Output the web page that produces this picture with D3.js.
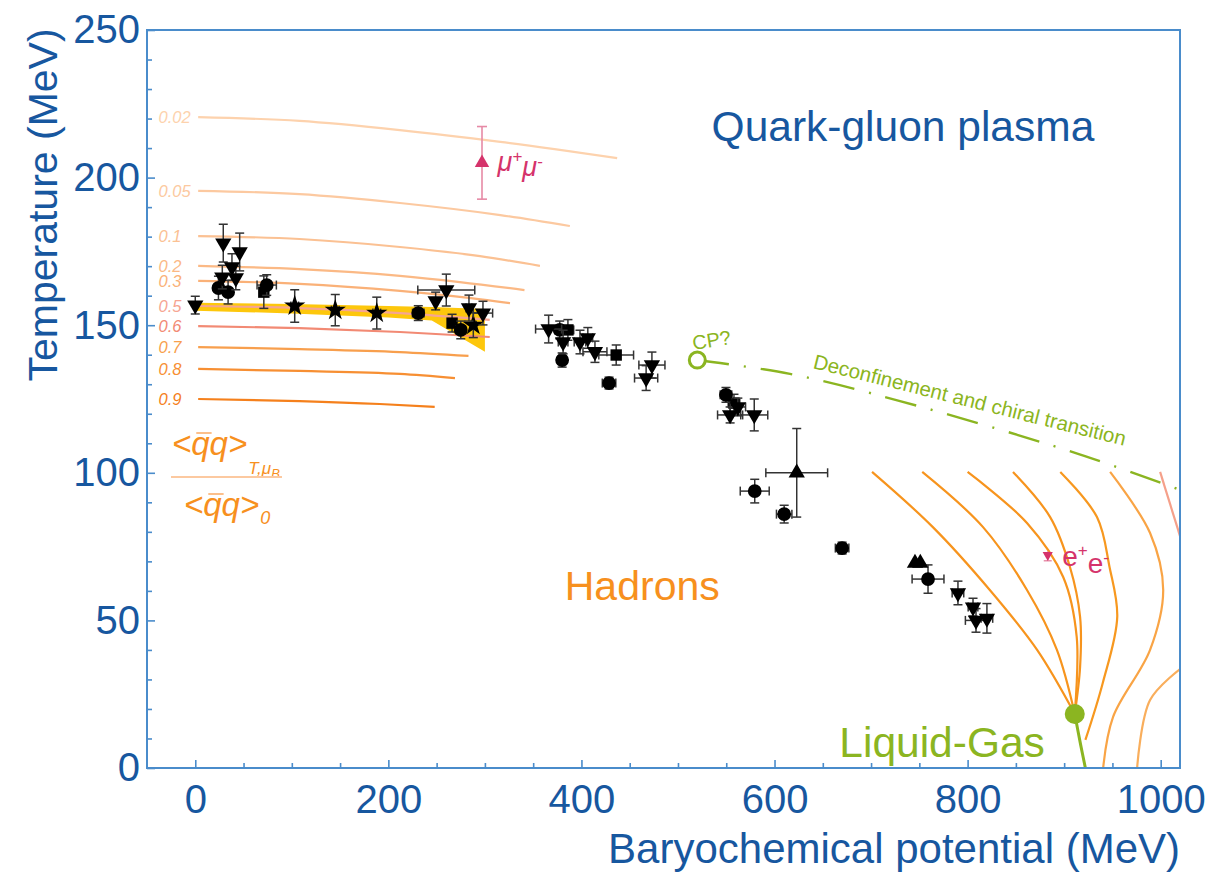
<!DOCTYPE html>
<html>
<head>
<meta charset="utf-8">
<script src="https://cdn.jsdelivr.net/npm/d3@7"></script>
<style>
  body { margin: 0; background: #fff; }
  svg { display: block; }
  text { font-family: "Liberation Sans", Arial, Helvetica, sans-serif; }
</style>
</head>
<body>
<svg id="chart" width="1220" height="880"></svg>
<script>
// ---------- axes ----------
const xTicks = [0, 200, 400, 600, 800, 1000];
const yTicks = [0, 50, 100, 150, 200, 250];

// ---------- chiral condensate ratio contours (mu_B, T) ----------
const ratioLevels = ["0.02", "0.05", "0.1", "0.2", "0.3", "0.5", "0.6", "0.7", "0.8", "0.9"];
const ratioCurves = [
  [[3, 220.5], [108, 219.2], [212, 216.1], [316, 212.1], [437, 206.6]],
  [[3, 195.5], [108, 194.4], [212, 191.4], [316, 187.3], [388, 183.6]],
  [[3, 180.2], [108, 179.2], [212, 176.5], [295, 173.4], [357, 170.1]],
  [[3, 170.1], [108, 169.0], [212, 166.7], [274, 164.6], [341, 161.9]],
  [[3, 165.0], [108, 164.0], [212, 161.6], [274, 159.6], [326, 157.5]],
  [[3, 156.5], [108, 155.8], [212, 154.1], [305, 151.8]],
  [[3, 149.7], [108, 149.0], [212, 147.7], [305, 146.0]],
  [[3, 142.6], [108, 141.9], [212, 140.9], [283, 139.6]],
  [[3, 135.2], [108, 134.5], [212, 133.5], [269, 132.1]],
  [[3, 125.0], [108, 124.3], [191, 123.3], [248, 122.3]]
];
const ratioColors = ["#fdd2ad", "#fcc9a0", "#fbc193", "#fbb985", "#fab178",
                     "#f6a592", "#f28a74", "#f89f4d", "#f78f33", "#f5801c"];

// ---------- lattice crossover band ----------
const bandMu    = [0, 100, 200, 245, 300];
const bandUpper = [157.6, 157.2, 156.5, 156.2, 155.5];
const bandLower = [154.9, 154.0, 152.6, 151.6, 141.0];

// ---------- high-density contours ----------
const denseCurves = [
  [[701, 100.3], [764, 81.6], [823, 60.3], [872, 40], [911, 18.3]],
  [[753, 100.3], [816, 81.6], [861.5, 60.3], [892.5, 40], [911, 18.3]],
  [[800, 100.3], [861.5, 83], [899, 64.7], [913, 44.4], [911, 18.3]],
  [[847, 100.3], [885.5, 85], [906, 68.1], [916.5, 51.2], [916.5, 34.2], [911, 18.3]],
  [[896, 100.3], [934, 85], [947, 68.1], [955, 51.2], [940, 28.8], [922, 9.5]],
  [[947.6, 100.3], [989, 79.6], [1002.6, 60.3], [989, 40], [950.7, 17.3], [940.4, 0]],
  [[999.4, 100.3], [1022, 76.5]],
  [[1022, 34], [989, 23], [975.6, 0]]
];
const denseColors = ["#f7941d", "#f7941d", "#f7941d", "#f7941d", "#f7981f",
                     "#f9a445", "#f5a08a", "#f9ae5c"];

// ---------- transition lines and points ----------
const deconfLine = [[520, 138.2], [616, 133.5], [730, 124.3], [909, 107], [1022, 94]];
const criticalPoint = [520, 138.2];
const liquidGasLine = [[911, 18.3], [917, 8], [922, 0]];
const liquidGasPoint = [911, 18.3];

// ---------- freeze-out data: [mu_B, T, muErr, TErr] ----------
const downTriangles = [
  [0, 156.8, 0, 3], [29, 177.8, 0, 6.4], [46, 174.8, 0, 6.4], [38, 169.7, 0, 4.5],
  [42, 166, 0, 4], [28, 166.3, 0, 4], [249, 158.2, 0, 3], [260, 161.9, 29.5, 5.4],
  [283.5, 155.8, 3, 4.4], [298, 154.1, 10, 4], [366, 148.7, 13.5, 4.7],
  [381, 144.3, 5, 4], [398.5, 144.3, 6, 4], [406.6, 145.7, 5, 3.5], [414, 141, 12.4, 3.6],
  [473, 136.5, 13.5, 4.4], [467, 132.1, 12, 4.2], [554, 119.6, 13, 2.7],
  [562, 122.3, 8, 3], [579, 119.6, 14, 5.4], [790, 59.3, 6, 4], [805.6, 54.5, 5, 3],
  [808.7, 50, 11, 4], [820, 50.7, 6, 5]
];
const circlesData = [
  [24, 162.6, 3, 4], [34, 161.2, 3, 4], [74, 163.6, 10, 3.5], [231, 154.1, 6, 2.5],
  [275, 148.4, 5, 3], [377.5, 148.4, 5, 3], [380, 138.2, 3, 2.4], [428.6, 130.4, 7, 2],
  [549.7, 126.4, 6, 2.5], [579.5, 93.8, 15, 4], [610, 86, 8, 3], [670, 74.5, 7, 2],
  [759, 64, 16.5, 4.8]
];
const squaresData = [
  [71, 161.2, 3, 5.5], [266, 150.7, 4, 3], [386, 148.4, 6, 3.5], [436, 139.9, 18, 3.4],
  [558, 123.6, 6, 3]
];
const starsData = [
  [103, 156.5, 4, 5.5], [145, 155.1, 4, 5.3], [188, 154.1, 4, 5.4], [288, 150, 3, 4.2]
];
const upTriangles = [
  [623, 100, 32, 15], [745.5, 69.4, 0, 0], [751, 69.4, 0, 0]
];

// ---------- dilepton estimates: [mu_B, T, TErr] ----------
const dimuon = [297, 205, 12.3];
const dielectron = [883, 71.8, 1.6];

// ================= drawing =================
const W = 1220, H = 880;
const x = d3.scaleLinear().domain([-50, 1020]).range([147, 1180]);
const y = d3.scaleLinear().domain([0, 250]).range([768, 30]);

const axisBlue = "#4a8ccb";
const textBlue = "#17579f";
const green = "#8bb521";
const pink = "#d5336b";

const svg = d3.select("#chart");
svg.append("rect").attr("width", W).attr("height", H).attr("fill", "#fff");

const defs = svg.append("defs");
defs.append("clipPath").attr("id", "plotClip").append("rect")
  .attr("x", x.range()[0]).attr("y", y.range()[1])
  .attr("width", x.range()[1] - x.range()[0])
  .attr("height", y.range()[0] - y.range()[1]);

const plot = svg.append("g").attr("clip-path", "url(#plotClip)");

// lattice band
const bandRows = bandMu.map((m, i) => ({ m, lo: bandLower[i], hi: bandUpper[i] }));
plot.append("path")
  .datum(bandRows)
  .attr("d", d3.area().x(d => x(d.m)).y0(d => y(d.lo)).y1(d => y(d.hi)))
  .attr("fill", "#fdc70c");

// ratio contours
const smoothLine = d3.line().x(d => x(d[0])).y(d => y(d[1])).curve(d3.curveMonotoneX);
plot.selectAll("path.ratio")
  .data(ratioCurves)
  .join("path")
  .attr("class", "ratio")
  .attr("d", smoothLine)
  .attr("fill", "none")
  .attr("stroke", (d, i) => ratioColors[i])
  .attr("stroke-width", 2.2);

svg.selectAll("text.ratioLabel")
  .data(ratioLevels)
  .join("text")
  .attr("class", "ratioLabel")
  .attr("x", x(-38))
  .attr("y", (d, i) => y(ratioCurves[i][0][1]))
  .attr("dy", "0.36em")
  .attr("font-size", 16.5)
  .attr("font-style", "italic")
  .attr("fill", (d, i) => ratioColors[i])
  .text(d => d);

// high density contours
const freeLine = d3.line().x(d => x(d[0])).y(d => y(d[1])).curve(d3.curveCatmullRom.alpha(0.5));
plot.selectAll("path.dense")
  .data(denseCurves)
  .join("path")
  .attr("class", "dense")
  .attr("d", freeLine)
  .attr("fill", "none")
  .attr("stroke", (d, i) => denseColors[i])
  .attr("stroke-width", 2.2);

// deconfinement / chiral transition line
plot.append("path")
  .datum(deconfLine)
  .attr("d", freeLine)
  .attr("fill", "none")
  .attr("stroke", green)
  .attr("stroke-width", 2.4)
  .attr("stroke-dasharray", "32,15,2,15");

// liquid-gas line and endpoint
plot.append("path")
  .datum(liquidGasLine)
  .attr("d", freeLine)
  .attr("fill", "none")
  .attr("stroke", green)
  .attr("stroke-width", 3);
plot.append("circle")
  .attr("cx", x(liquidGasPoint[0])).attr("cy", y(liquidGasPoint[1]))
  .attr("r", 10).attr("fill", green);

// critical point
plot.append("circle")
  .attr("cx", x(criticalPoint[0])).attr("cy", y(criticalPoint[1]))
  .attr("r", 8).attr("fill", "#fff").attr("stroke", green).attr("stroke-width", 3);

// error bars + markers
function drawSeries(data, symbolType, size, rotate) {
  const g = plot.append("g");
  const eb = g.append("g").attr("stroke", "#333").attr("stroke-width", 1.5);
  const cap = 4.5;
  data.forEach(d => {
    const cx = x(d[0]), cy = y(d[1]);
    if (d[3] > 0) {
      const y1 = y(d[1] + d[3]), y2 = y(d[1] - d[3]);
      eb.append("line").attr("x1", cx).attr("x2", cx).attr("y1", y1).attr("y2", y2);
      eb.append("line").attr("x1", cx - cap).attr("x2", cx + cap).attr("y1", y1).attr("y2", y1);
      eb.append("line").attr("x1", cx - cap).attr("x2", cx + cap).attr("y1", y2).attr("y2", y2);
    }
    if (d[2] > 0) {
      const x1 = x(d[0] - d[2]), x2 = x(d[0] + d[2]);
      eb.append("line").attr("x1", x1).attr("x2", x2).attr("y1", cy).attr("y2", cy);
      eb.append("line").attr("x1", x1).attr("x2", x1).attr("y1", cy - cap).attr("y2", cy + cap);
      eb.append("line").attr("x1", x2).attr("x2", x2).attr("y1", cy - cap).attr("y2", cy + cap);
    }
  });
  g.selectAll("path.mk")
    .data(data)
    .join("path")
    .attr("class", "mk")
    .attr("d", d3.symbol().type(symbolType).size(size))
    .attr("transform", d => `translate(${x(d[0])},${y(d[1])})` + (rotate ? " rotate(180)" : ""))
    .attr("fill", "#000");
}
drawSeries(starsData, d3.symbolStar, 140, false);
drawSeries(squaresData, d3.symbolSquare, 130, false);
drawSeries(circlesData, d3.symbolCircle, 150, false);
drawSeries(upTriangles, d3.symbolTriangle, 115, false);
drawSeries(downTriangles, d3.symbolTriangle, 115, true);

// dimuon point
{
  const cx = x(dimuon[0]), cy = y(dimuon[1]);
  const y1 = y(dimuon[1] + dimuon[2]), y2 = y(dimuon[1] - dimuon[2]);
  const g = plot.append("g").attr("stroke", "#e68aa6").attr("stroke-width", 1.6);
  g.append("line").attr("x1", cx).attr("x2", cx).attr("y1", y1).attr("y2", y2);
  g.append("line").attr("x1", cx - 5).attr("x2", cx + 5).attr("y1", y1).attr("y2", y1);
  g.append("line").attr("x1", cx - 5).attr("x2", cx + 5).attr("y1", y2).attr("y2", y2);
  plot.append("path")
    .attr("d", d3.symbol().type(d3.symbolTriangle).size(90)())
    .attr("transform", `translate(${cx},${cy})`)
    .attr("fill", pink);
}
// dielectron point
{
  const cx = x(dielectron[0]), cy = y(dielectron[1]);
  const y1 = y(dielectron[1] + dielectron[2]), y2 = y(dielectron[1] - dielectron[2]);
  const g = plot.append("g").attr("stroke", "#e68aa6").attr("stroke-width", 1.4);
  g.append("line").attr("x1", cx).attr("x2", cx).attr("y1", y1).attr("y2", y2);
  g.append("line").attr("x1", cx - 4).attr("x2", cx + 4).attr("y1", y2).attr("y2", y2);
  plot.append("path")
    .attr("d", d3.symbol().type(d3.symbolTriangle).size(45)())
    .attr("transform", `translate(${cx},${cy - 1}) rotate(180)`)
    .attr("fill", pink);
}

// ---------- text annotations ----------
const labels = svg.append("g");

const mm = labels.append("text")
  .attr("x", x(313)).attr("y", y(205)).attr("dy", "0.3em")
  .attr("fill", pink).attr("font-size", 27).attr("font-style", "italic");
mm.append("tspan").text("\u03bc");
mm.append("tspan").attr("font-size", 17).attr("dy", "-0.55em").text("+");
mm.append("tspan").attr("dy", "0.55em").text("\u03bc");
mm.append("tspan").attr("font-size", 17).attr("dy", "-0.55em").text("-");

const ee = labels.append("text")
  .attr("x", x(898)).attr("y", y(71.8)).attr("dy", "0.36em")
  .attr("fill", pink).attr("font-size", 28);
ee.append("tspan").text("e");
ee.append("tspan").attr("font-size", 17).attr("dy", "-0.6em").text("+");
ee.append("tspan").attr("dy", "0.6em").text("e");
ee.append("tspan").attr("font-size", 17).attr("dy", "-0.6em").text("-");

labels.append("text")
  .attr("transform", `translate(${x(516)},${y(141.6)}) rotate(-9)`)
  .attr("fill", green).attr("font-size", 20).text("CP?");

labels.append("text")
  .attr("transform", `translate(${x(639)},${y(135.5)}) rotate(14)`)
  .attr("fill", green).attr("font-size", 20.5)
  .text("Deconfinement and chiral transition");

labels.append("text")
  .attr("x", x(733)).attr("y", y(212.5)).attr("text-anchor", "middle")
  .attr("fill", textBlue).attr("font-size", 42.5).text("Quark-gluon plasma");

labels.append("text")
  .attr("x", x(463)).attr("y", y(57)).attr("text-anchor", "middle")
  .attr("fill", "#f7901e").attr("font-size", 41).text("Hadrons");

labels.append("text")
  .attr("x", x(880)).attr("y", y(3.8)).attr("text-anchor", "end")
  .attr("fill", green).attr("font-size", 42.5).text("Liquid-Gas");

// condensate ratio label
{
  const orange = "#f7901e";
  const g = labels.append("g").attr("fill", orange).attr("font-style", "italic");
  const num = g.append("text").attr("x", 172).attr("y", 455).attr("font-size", 33);
  num.append("tspan").text("<qq>");
  const den = g.append("text").attr("x", 184).attr("y", 516).attr("font-size", 33);
  den.append("tspan").text("<qq>");
  // overbars on the antiquarks
  [num, den].forEach(t => {
    const node = t.node();
    const s = node.getStartPositionOfChar(1);
    const e = node.getEndPositionOfChar(1);
    g.append("line")
      .attr("x1", s.x + 5).attr("x2", e.x + 2)
      .attr("y1", s.y - 22).attr("y2", s.y - 22)
      .attr("stroke", "#fcb87e").attr("stroke-width", 1.8);
  });
  const nEnd = num.node().getEndPositionOfChar(3);
  const st = g.append("text").attr("x", nEnd.x + 1).attr("y", 474).attr("font-size", 17);
  st.append("tspan").text("T,\u03bc");
  st.append("tspan").attr("font-size", 13).attr("dy", 4).text("B");
  const dEnd = den.node().getEndPositionOfChar(3);
  g.append("text").attr("x", dEnd.x + 1).attr("y", 524).attr("font-size", 18).text("0");
  labels.append("line")
    .attr("x1", 171).attr("x2", 282).attr("y1", 477).attr("y2", 477)
    .attr("stroke", "#fcc9a0").attr("stroke-width", 2);
}

// ---------- axes and frame ----------
svg.append("rect")
  .attr("x", x.range()[0]).attr("y", y.range()[1])
  .attr("width", x.range()[1] - x.range()[0])
  .attr("height", y.range()[0] - y.range()[1])
  .attr("fill", "none").attr("stroke", axisBlue).attr("stroke-width", 2);

const xMinor = d3.range(-50, 1021, 50).filter(v => !xTicks.includes(v) && v > -50);
const yMinor = d3.range(0, 251, 10).filter(v => !yTicks.includes(v));

function styleAxis(g) {
  g.select(".domain").remove();
  g.selectAll(".tick line").attr("stroke", axisBlue).attr("stroke-width", 1.6);
  g.selectAll(".tick text").attr("fill", textBlue).attr("font-size", 40)
    .attr("font-family", '"Liberation Sans", Arial, Helvetica, sans-serif');
}

svg.append("g").attr("transform", `translate(0,${y.range()[0]})`)
  .call(d3.axisBottom(x).tickValues(xMinor).tickSize(-5).tickFormat(""))
  .call(styleAxis);
svg.append("g").attr("transform", `translate(0,${y.range()[0]})`)
  .call(d3.axisBottom(x).tickValues(xTicks).tickSize(-8).tickPadding(17).tickFormat(d3.format("d")))
  .call(styleAxis);

svg.append("g").attr("transform", `translate(${x.range()[0]},0)`)
  .call(d3.axisLeft(y).tickValues(yMinor).tickSize(-5).tickFormat(""))
  .call(styleAxis);
svg.append("g").attr("transform", `translate(${x.range()[0]},0)`)
  .call(d3.axisLeft(y).tickValues(yTicks).tickSize(-8).tickPadding(7).tickFormat(d3.format("d")))
  .call(styleAxis);

svg.append("text")
  .attr("transform", `translate(57,205) rotate(-90)`)
  .attr("text-anchor", "middle")
  .attr("fill", textBlue).attr("font-size", 41)
  .text("Temperature (MeV)");

svg.append("text")
  .attr("x", 1180).attr("y", 863).attr("text-anchor", "end")
  .attr("fill", textBlue).attr("font-size", 42)
  .text("Baryochemical potential (MeV)");
</script>
</body>
</html>
